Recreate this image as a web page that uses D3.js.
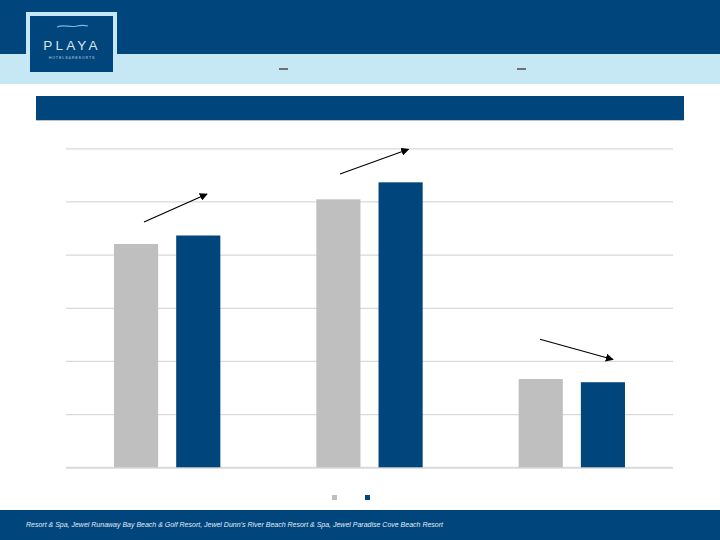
<!DOCTYPE html>
<html>
<head>
<meta charset="utf-8">
<script src="https://cdn.jsdelivr.net/npm/d3@7"></script>
<style>
  html, body { margin: 0; padding: 0; background: #fff; }
  svg { display: block; }
</style>
</head>
<body>
<div id="chart"></div>
<script>
// ---- data (category/series labels are not shown in it) ----
const categories = ["Group 1", "Group 2", "Group 3"];
const seriesNames = ["Prior period", "Current period"];
const priorValues = [210, 252, 83];
const currentValues = [218, 268, 80];
const yTicks = [0, 50, 100, 150, 200, 250, 300];
const footnote = "Resort & Spa, Jewel Runaway Bay Beach & Golf Resort, Jewel Dunn\u2019s River Beach Resort & Spa, Jewel Paradise Cove Beach Resort";

const W = 720, H = 540;
const DARK = "#00457C", LIGHT = "#C6E7F4", GRAY = "#BFBFBF";
const colors = [GRAY, DARK];

const svg = d3.select("#chart").append("svg").attr("width", W).attr("height", H);

// ---- header ----
svg.append("rect").attr("x", 0).attr("y", 0).attr("width", W).attr("height", 54).attr("fill", DARK);
svg.append("rect").attr("x", 0).attr("y", 54).attr("width", W).attr("height", 30).attr("fill", LIGHT);
// logo
svg.append("rect").attr("x", 26).attr("y", 12).attr("width", 91).attr("height", 61).attr("fill", LIGHT);
svg.append("rect").attr("x", 30).attr("y", 16).attr("width", 83).attr("height", 56).attr("fill", DARK);
svg.append("path")
  .attr("d", "M57,27 C64,24 70,28 77,26 C81,25 84,25 88,26")
  .attr("fill", "none").attr("stroke", "#7FB5DC").attr("stroke-width", 1.2);
svg.append("text").attr("x", 72).attr("y", 50).attr("text-anchor", "middle")
  .attr("font-family", "Liberation Sans, Arial, sans-serif").attr("font-size", 13.5)
  .attr("letter-spacing", 3.2).attr("fill", "#DDE4EA").text("PLAYA");
svg.append("text").attr("x", 72).attr("y", 59).attr("text-anchor", "middle")
  .attr("font-family", "Liberation Sans, Arial, sans-serif").attr("font-size", 3.6)
  .attr("letter-spacing", 0.9).attr("fill", "#C9D6E2").text("HOTELS&RESORTS");
// small dashes in the light band
[[279, 288], [517, 526]].forEach(([a, b]) => {
  svg.append("line").attr("x1", a).attr("x2", b).attr("y1", 69).attr("y2", 69)
    .attr("stroke", "#6D7175").attr("stroke-width", 2);
});

// title bar
svg.append("rect").attr("x", 36).attr("y", 96).attr("width", 648).attr("height", 24).attr("fill", DARK);
svg.append("line").attr("x1", 36).attr("x2", 684).attr("y1", 120.5).attr("y2", 120.5)
  .attr("stroke", "#B8C4CE").attr("stroke-width", 1);

// ---- chart ----
const x0 = 66, x1 = 673, yTop = 148.3, yBase = 467.3;
const x = d3.scaleBand().domain(categories).range([x0, x1]).paddingInner(0).paddingOuter(0);
const xs = d3.scaleBand().domain(seriesNames).range([48, x.bandwidth() - 48]).paddingInner(18 / 62).paddingOuter(0);
const y = d3.scaleLinear().domain([0, 300]).range([yBase, yTop]);

const grid = svg.append("g").attr("transform", `translate(${x0},0)`)
  .call(d3.axisLeft(y).tickValues(yTicks).tickSize(-(x1 - x0)).tickFormat(""));
grid.select(".domain").remove();
grid.selectAll(".tick line").attr("stroke", "#D9D9D9").attr("stroke-width", 1.3);
grid.selectAll(".tick").filter(d => d === 0).select("line").attr("stroke", "#D9D9D9").attr("stroke-width", 2);

const rows = categories.map((c, i) => ({ c, vals: [priorValues[i], currentValues[i]] }));
const groups = svg.append("g").selectAll("g").data(rows).join("g")
  .attr("transform", d => `translate(${x(d.c)},0)`);
groups.selectAll("rect").data(d => d.vals.map((v, j) => ({ v, s: seriesNames[j], j }))).join("rect")
  .attr("x", d => xs(d.s)).attr("width", xs.bandwidth())
  .attr("y", d => y(d.v)).attr("height", d => yBase - y(d.v))
  .attr("fill", d => colors[d.j]);

// trend arrows
const defs = svg.append("defs");
defs.append("marker").attr("id", "ah").attr("viewBox", "0 0 10 10").attr("refX", 9).attr("refY", 5)
  .attr("markerWidth", 8).attr("markerHeight", 8).attr("markerUnits", "userSpaceOnUse").attr("orient", "auto")
  .append("path").attr("d", "M0,0 L10,5 L0,10 Z").attr("fill", "#000");
const arrows = [
  [144, 222, 207, 194],
  [340, 174, 408.5, 149.3],
  [540, 339.3, 613, 359.5]
];
svg.append("g").selectAll("line").data(arrows).join("line")
  .attr("x1", d => d[0]).attr("y1", d => d[1]).attr("x2", d => d[2]).attr("y2", d => d[3])
  .attr("stroke", "#000").attr("stroke-width", 1.1).attr("marker-end", "url(#ah)");

// legend markers
const legendX = [332, 365];
svg.append("g").selectAll("rect").data(seriesNames).join("rect")
  .attr("x", (d, i) => legendX[i]).attr("y", 495).attr("width", 5).attr("height", 5)
  .attr("fill", (d, i) => colors[i]);

// ---- footer ----
svg.append("rect").attr("x", 0).attr("y", 510).attr("width", W).attr("height", 30).attr("fill", DARK);
svg.append("text").attr("x", 26).attr("y", 526.5)
  .attr("font-family", "Liberation Sans, Arial, sans-serif").attr("font-size", 7.6)
  .attr("font-style", "italic").attr("fill", "#E3EDF6")
  .attr("textLength", 417).attr("lengthAdjust", "spacingAndGlyphs")
  .text(footnote);
</script>
</body>
</html>
